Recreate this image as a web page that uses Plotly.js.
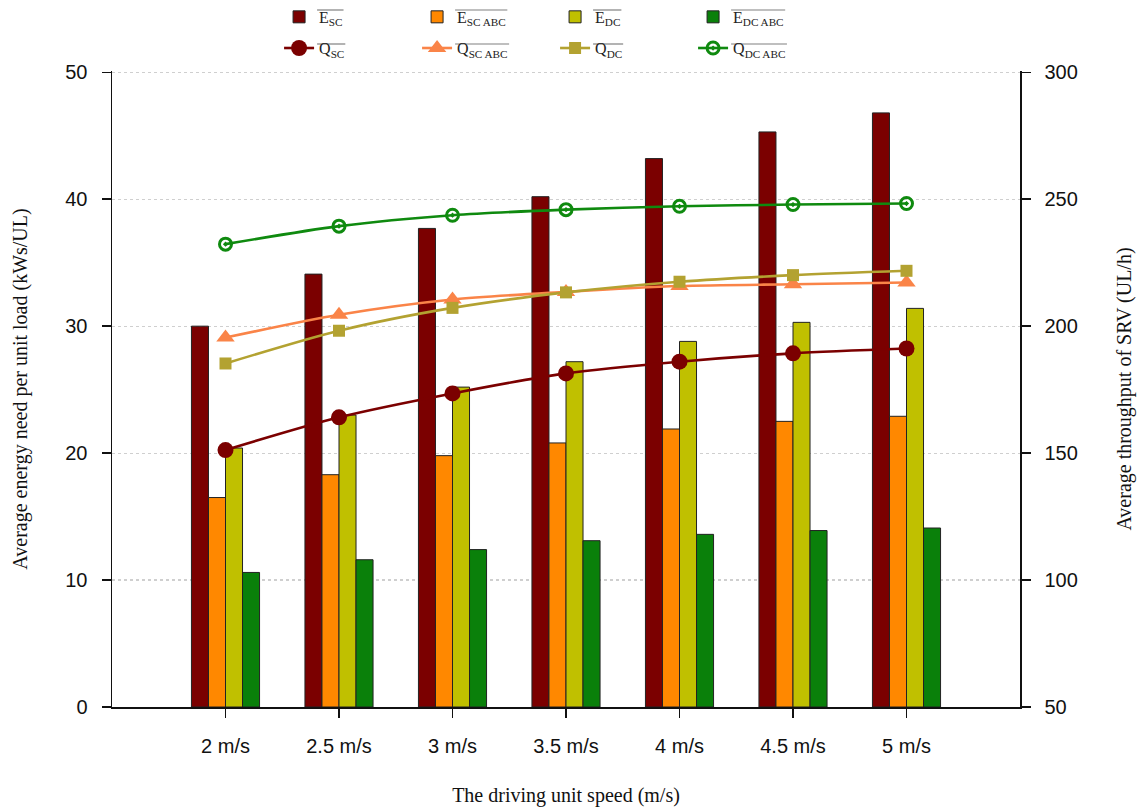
<!DOCTYPE html>
<html>
<head>
<meta charset="utf-8">
<script src="https://cdn.plot.ly/plotly-3.0.1.min.js"></script>
<style>html,body{margin:0;padding:0;background:#fff;}</style>
</head>
<body>
<div id="chart" style="width:1142px;height:809px;"></div>
<script>
var speeds = ["2 m/s","2.5 m/s","3 m/s","3.5 m/s","4 m/s","4.5 m/s","5 m/s"];

// Energy (left axis, kWs/UL)
var eSC    = [30.0, 34.1, 37.7, 40.2, 43.2, 45.3, 46.8];
var eSCABC = [16.5, 18.3, 19.8, 20.8, 21.9, 22.5, 22.9];
var eDC    = [20.4, 23.0, 25.2, 27.2, 28.8, 30.3, 31.4];
var eDCABC = [10.6, 11.6, 12.4, 13.1, 13.6, 13.9, 14.1];

// Throughput (right axis, UL/h)
var qSC    = [151.2, 164.1, 173.5, 181.4, 186.0, 189.3, 191.2];
var qSCABC = [195.5, 204.5, 210.5, 213.5, 215.8, 216.5, 217.2];
var qDC    = [185.3, 198.2, 207.2, 213.3, 217.5, 220.1, 221.8];
var qDCABC = [232.3, 239.4, 243.7, 245.9, 247.2, 247.9, 248.3];

// legend label parts
var subs = ['SC', 'SC ABC', 'DC', 'DC ABC'];

function lbl(base, sub) {
  return base + '<sub>' + sub + '</sub>';
}

var barLine = {color: '#222', width: 1};
function bar(name, vals, color, og) {
  return {type: 'bar', name: name, x: speeds, y: vals, offsetgroup: og,
          marker: {color: color, line: barLine}, legend: 'legend', yaxis: 'y'};
}
function line(name, vals, color, symbol, msize, mline) {
  return {type: 'scatter', mode: 'lines+markers', name: name, x: speeds, y: vals,
          yaxis: 'y2', legend: 'legend2',
          line: {color: color, width: 2.6, shape: 'spline', smoothing: 0.8},
          marker: {color: color, symbol: symbol, size: msize, line: mline || {width: 0}}};
}

var data = [
  bar(lbl('E', subs[0]), eSC, '#7b0000', 'a'),
  bar(lbl('E', subs[1]), eSCABC, '#ff8800', 'b'),
  bar(lbl('E', subs[2]), eDC, '#c0c000', 'c'),
  bar(lbl('E', subs[3]), eDCABC, '#0a800a', 'd'),
  line(lbl('Q', subs[0]), qSC, '#7b0000', 'circle', 16),
  line(lbl('Q', subs[1]), qSCABC, '#fa8448', 'triangle-up', 16),
  line(lbl('Q', subs[2]), qDC, '#b3a231', 'square', 12),
  line(lbl('Q', subs[3]), qDCABC, '#0f8a0f', 'circle-open-dot', 12, {width: 3, color: '#0f8a0f'})
];

var tickFont = {family: 'Liberation Sans, Arial, sans-serif', size: 20, color: '#111'};
var titleFont = {family: 'Liberation Serif, Times New Roman, serif', size: 20, color: '#111'};
var legFont = {family: 'Liberation Serif, Times New Roman, serif', size: 16, color: '#222'};

var W = 1142, H = 809, M = {l: 112, r: 122, t: 71, b: 102};
var plotW = W - M.l - M.r, plotH = H - M.t - M.b;
var legX = 0.184, leg1Y = 1.085, leg2Y = 1.036;
var entryPitch = 138, textOffset = 39;   // legend item pitch / icon-to-text offset (px)

// Overline (mean notation) above every legend label, sized from the label's text width
function textWidth(txt, px) {
  var c = document.createElement('canvas').getContext('2d');
  c.font = px + 'px "Liberation Serif"';
  return c.measureText(txt).width;
}
var shapes = [];
[['E', 10], ['Q', 44]].forEach(function (row) {
  subs.forEach(function (s, i) {
    var x0 = M.l + legX * plotW + textOffset + i * entryPitch - 1;
    var w = textWidth(row[0], 16) + textWidth(s, 16 * 0.7) + 3;
    var yp = (M.t + plotH - row[1]) / plotH;
    shapes.push({type: 'line', xref: 'paper', yref: 'paper',
                 x0: (x0 - M.l) / plotW, x1: (x0 + w - M.l) / plotW, y0: yp, y1: yp,
                 line: {color: '#808080', width: 1.2}});
  });
});

var layout = {
  width: W, height: H,
  margin: {l: M.l, r: M.r, t: M.t, b: M.b, autoexpand: false},
  paper_bgcolor: '#fff', plot_bgcolor: '#fff',
  barmode: 'group', bargap: 0.4, bargroupgap: 0,
  showlegend: true,
  shapes: shapes,
  xaxis: {
    type: 'category', range: [-1, 7], showline: true, linecolor: '#111', linewidth: 1.5,
    ticks: 'outside', ticklen: 9, tickcolor: '#111', tickwidth: 1.5, tickfont: tickFont,
    ticklabelstandoff: 11, showgrid: false, zeroline: false,
    title: {text: 'The driving unit speed (m/s)', font: titleFont, standoff: 32}
  },
  yaxis: {
    range: [0, 50.1], tickvals: [0, 10, 20, 30, 40, 50], showline: true, linecolor: '#111', linewidth: 1.5,
    ticks: 'outside', ticklen: 9, tickcolor: '#111', tickwidth: 1.5, tickfont: tickFont,
    ticklabelstandoff: 10,
    showgrid: true, gridcolor: '#cfcfcf', griddash: 'dot', gridwidth: 1.2, zeroline: false,
    title: {text: 'Average energy need per unit load (kWs/UL)', font: titleFont, standoff: 32}
  },
  yaxis2: {
    range: [50, 300.5], tickvals: [50, 100, 150, 200, 250, 300], overlaying: 'y', side: 'right', showline: true,
    linecolor: '#111', linewidth: 1.5, ticks: 'outside', ticklen: 9, tickcolor: '#111',
    tickwidth: 1.5, tickfont: tickFont, ticklabelstandoff: 10, showgrid: false, zeroline: false,
    title: {text: 'Average throughput of SRV (UL/h)', font: titleFont, standoff: 40}
  },
  legend: {
    orientation: 'h', x: legX, xanchor: 'left', y: leg1Y, yanchor: 'middle',
    entrywidth: 93, entrywidthmode: 'pixels', font: legFont, bgcolor: 'rgba(0,0,0,0)',
    itemclick: false
  },
  legend2: {
    orientation: 'h', x: legX, xanchor: 'left', y: leg2Y, yanchor: 'middle',
    entrywidth: 93, entrywidthmode: 'pixels', font: legFont, bgcolor: 'rgba(0,0,0,0)',
    itemclick: false
  }
};

Plotly.newPlot('chart', data, layout, {displayModeBar: false, staticPlot: true});
</script>
</body>
</html>
